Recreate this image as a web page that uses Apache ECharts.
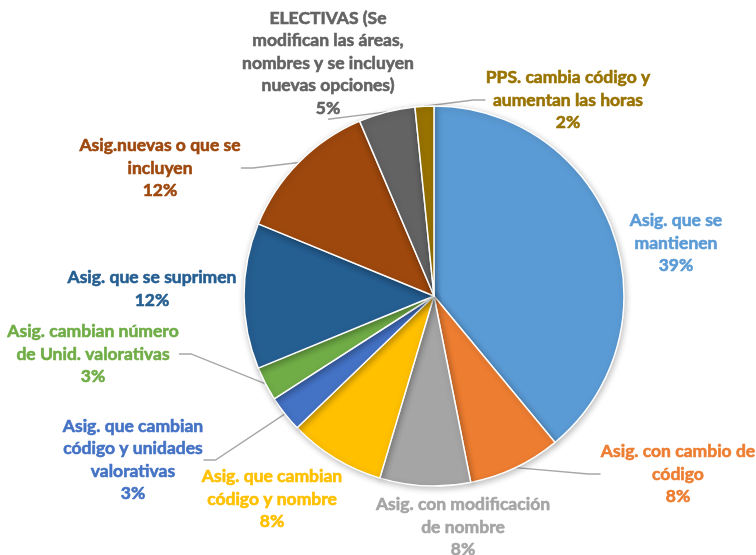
<!DOCTYPE html>
<html>
<head>
<meta charset="utf-8">
<script src="https://cdn.jsdelivr.net/npm/echarts@6/dist/echarts.min.js"></script>
<style>
  html, body { margin: 0; padding: 0; background: #fff; }
  #chart { width: 756px; height: 555px; }
</style>
</head>
<body>
<div id="chart"></div>
<script>
// categories (clockwise from the top)
const categories = [
  'Asig. que se\nmantienen',
  'Asig. con cambio de\ncódigo',
  'Asig. con modificación\nde nombre',
  'Asig. que cambian\ncódigo y nombre',
  'Asig. que cambian\ncódigo y unidades\nvalorativas',
  'Asig. cambian número\nde Unid. valorativas',
  'Asig. que se suprimen',
  'Asig.nuevas o que se\nincluyen',
  'ELECTIVAS (Se\nmodifican las áreas,\nnombres y se incluyen\nnuevas opciones)',
  'PPS. cambia código y\naumentan las horas'
];
// share of each slice (%)
const values = [39, 7.9, 7.7, 8.2, 3.1, 2.9, 12.4, 12.4, 4.8, 1.6];

const colorList = ['#5B9BD5', '#ED7D31', '#A5A5A5', '#FFC000', '#4472C4',
                   '#70AD47', '#255E91', '#9E480E', '#636363', '#997300'];
// label centres, in pixels
const labelPos = [[676, 243], [678, 474], [463, 527], [272, 499], [133, 460],
                  [93, 354], [152, 289], [160, 168], [328, 63], [568, 100]];
const noLine = [0, 2, 3, 6];

let instance = echarts.init(document.getElementById('chart'));
instance.setOption({
  animation: false,
  backgroundColor: '#fff',
  series: [{
    type: 'pie',
    center: [434, 296],
    radius: 190,
    startAngle: 90,
    clockwise: true,
    avoidLabelOverlap: false,
    percentPrecision: 0,
    itemStyle: {
      borderColor: '#fff',
      borderWidth: 1.5,
      shadowBlur: 6,
      shadowColor: 'rgba(0,0,0,0.25)',
      shadowOffsetX: 1,
      shadowOffsetY: 2
    },
    label: {
      position: 'outside',
      formatter: '{b}\n{d}%',
      fontFamily: 'Lato',
      fontWeight: 'bold',
      fontSize: 17.5,
      lineHeight: 22.5,
      align: 'center',
      textBorderWidth: 0.6
    },
    labelLine: {
      show: true,
      length: 10,
      length2: 12,
      lineStyle: { color: '#A6A6A6', width: 1.3 }
    },
    labelLayout: function (params) {
      const p = labelPos[params.dataIndex];
      return { x: p[0], y: p[1], align: 'center', verticalAlign: 'middle' };
    },
    emphasis: { disabled: true },
    data: categories.map((name, i) => ({
      name: name,
      value: values[i],
      itemStyle: { color: colorList[i] },
      label: { color: colorList[i], textBorderColor: colorList[i] },
      labelLine: { show: noLine.indexOf(i) < 0 }
    }))
  }]
});
window.onresize = () => {
  instance.resize();
};
</script>
</body>
</html>
